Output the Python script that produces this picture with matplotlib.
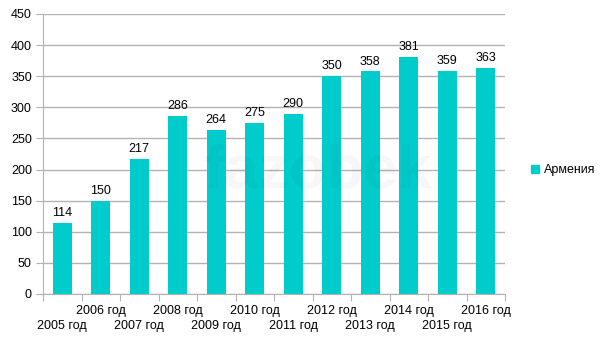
import matplotlib.pyplot as plt
from matplotlib.patches import Patch

plt.rcParams['font.family'] = ['Liberation Sans', 'DejaVu Sans']

years = ["2005 год", "2006 год", "2007 год", "2008 год", "2009 год", "2010 год",
         "2011 год", "2012 год", "2013 год", "2014 год", "2015 год", "2016 год"]
values = [114, 150, 217, 286, 264, 275, 290, 350, 358, 381, 359, 363]
series_name = "Армения"

bar_color = "#00cccc"
grid_color = "#b3b3b3"

fig = plt.figure(figsize=(6.05, 3.4), dpi=100)
ax = fig.add_axes([43 / 605, 1 - 294 / 340, (505 - 43) / 605, (294 - 14) / 340])

x = list(range(len(values)))
ax.bar(x, values, width=0.5, color=bar_color, zorder=3)
for xi, v in zip(x, values):
    ax.text(xi, v + 6, str(v), ha="center", va="bottom", fontsize=9, color="black")

ax.set_xlim(-0.5, len(values) - 0.5)
ax.set_ylim(0, 450)
ax.set_yticks(range(0, 451, 50))
ax.tick_params(axis="y", length=5, color=grid_color, labelsize=9, pad=3)
ax.grid(axis="y", color=grid_color, linewidth=1, zorder=0)

# category boundaries as ticks, labels staggered in two rows
ax.set_xticks([i - 0.5 for i in range(len(values) + 1)])
ax.set_xticklabels([])
ax.tick_params(axis="x", length=5, color=grid_color)
for i, label in enumerate(years):
    y = -0.06 if i % 2 == 1 else -0.115
    ax.text(i, y, label, transform=ax.get_xaxis_transform(), ha="center", va="center",
            fontsize=9)

for side in ["top", "right"]:
    ax.spines[side].set_visible(False)
for side in ["left", "bottom"]:
    ax.spines[side].set_color(grid_color)

# faint watermark
fig.text(318 / 605, 1 - 172 / 340, "fazobek", fontsize=44, color="#000000", alpha=0.03,
         ha="center", va="center", fontweight="bold", zorder=4)

fig.legend(handles=[Patch(color=bar_color)], labels=[series_name],
           loc="center left", bbox_to_anchor=(520 / 605, 1 - 170 / 340), frameon=False,
           fontsize=9, handlelength=0.6, handleheight=0.6, handletextpad=0.4)

fig.savefig("out.png", dpi=100)
